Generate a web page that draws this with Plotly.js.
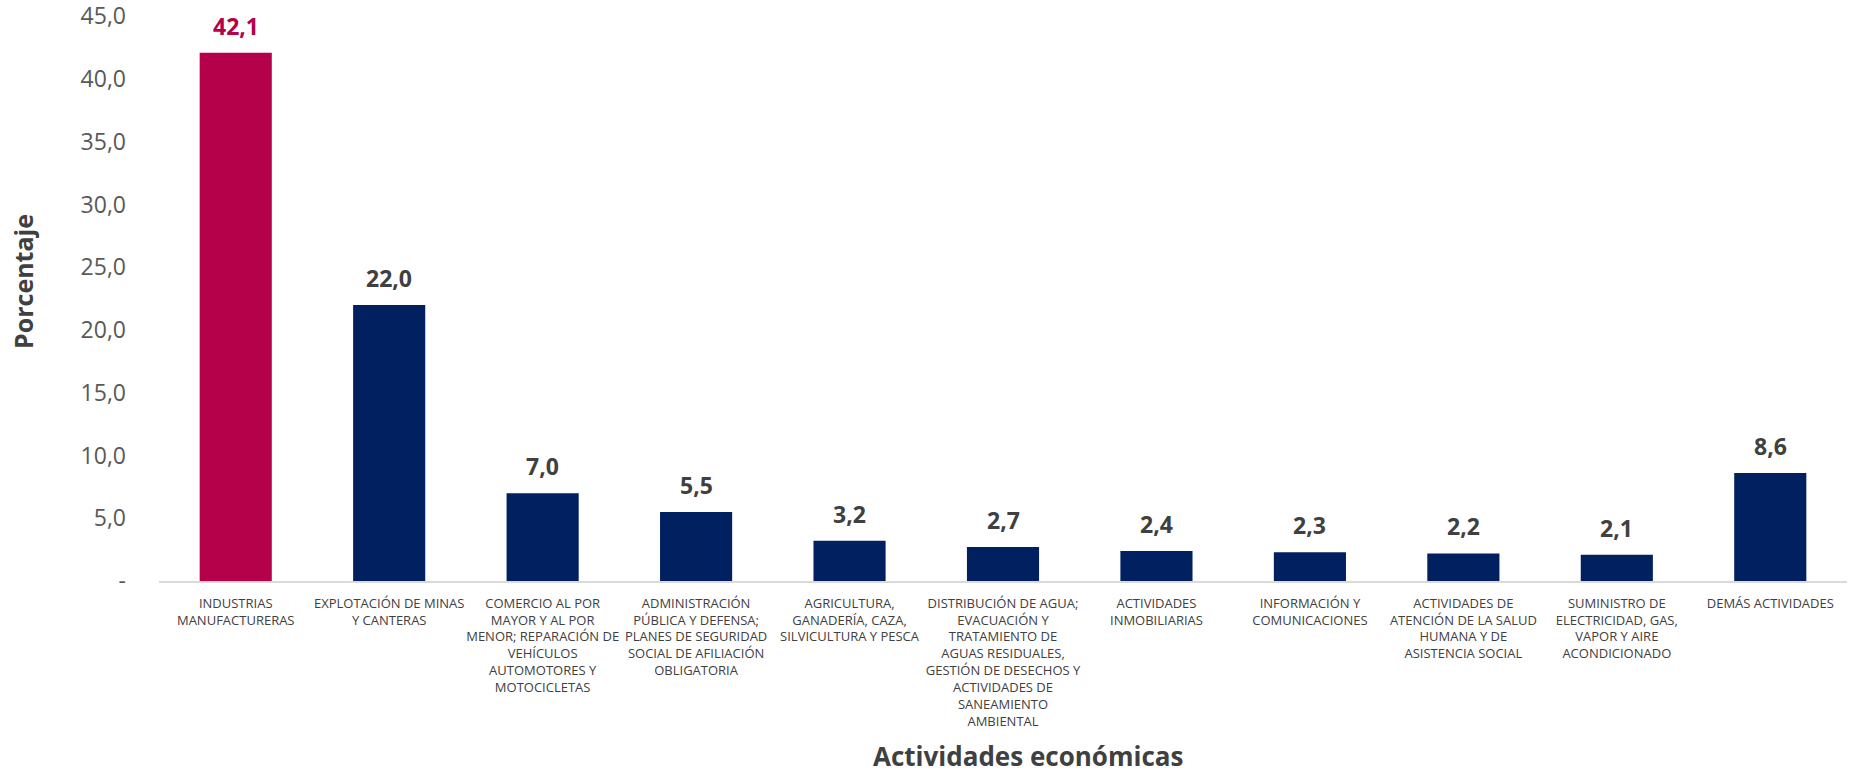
<!DOCTYPE html>
<html>
<head>
<meta charset="utf-8">
<script src="https://cdn.plot.ly/plotly-3.0.1.min.js"></script>
<style>html,body{margin:0;padding:0;background:#fff;}#chart{width:1851px;height:774px;}</style>
</head>
<body>
<div id="chart"></div>
<script>
const categories = [
  "INDUSTRIAS<br>MANUFACTURERAS",
  "EXPLOTACIÓN DE MINAS<br>Y CANTERAS",
  "COMERCIO AL POR<br>MAYOR Y AL POR<br>MENOR; REPARACIÓN DE<br>VEHÍCULOS<br>AUTOMOTORES Y<br>MOTOCICLETAS",
  "ADMINISTRACIÓN<br>PÚBLICA Y DEFENSA;<br>PLANES DE SEGURIDAD<br>SOCIAL DE AFILIACIÓN<br>OBLIGATORIA",
  "AGRICULTURA,<br>GANADERÍA, CAZA,<br>SILVICULTURA Y PESCA",
  "DISTRIBUCIÓN DE AGUA;<br>EVACUACIÓN Y<br>TRATAMIENTO DE<br>AGUAS RESIDUALES,<br>GESTIÓN DE DESECHOS Y<br>ACTIVIDADES DE<br>SANEAMIENTO<br>AMBIENTAL",
  "ACTIVIDADES<br>INMOBILIARIAS",
  "INFORMACIÓN Y<br>COMUNICACIONES",
  "ACTIVIDADES DE<br>ATENCIÓN DE LA SALUD<br>HUMANA Y DE<br>ASISTENCIA SOCIAL",
  "SUMINISTRO DE<br>ELECTRICIDAD, GAS,<br>VAPOR Y AIRE<br>ACONDICIONADO",
  "DEMÁS ACTIVIDADES"
];
const values = [42.1, 22.0, 7.0, 5.5, 3.2, 2.7, 2.4, 2.3, 2.2, 2.1, 8.6];
const valueLabels = ["42,1","22,0","7,0","5,5","3,2","2,7","2,4","2,3","2,2","2,1","8,6"];
const yTickVals = [0, 5, 10, 15, 20, 25, 30, 35, 40, 45];
const yTickText = ["-", "5,0", "10,0", "15,0", "20,0", "25,0", "30,0", "35,0", "40,0", "45,0"];

const RED = "#B5004A", NAVY = "#002060";
const barColors = values.map((v, i) => i === 0 ? RED : NAVY);
const labelColors = values.map((v, i) => i === 0 ? RED : "#404040");

const annotations = values.map((v, i) => ({
  x: i, y: v, xref: "x", yref: "y",
  text: "<b>" + valueLabels[i] + "</b>",
  showarrow: false, yanchor: "middle", yshift: 27,
  font: {family: "Open Sans, sans-serif", size: 23, color: labelColors[i]}
}));
annotations.push({
  xref: "paper", yref: "paper", x: (1028 - 159) / (1847 - 159), y: (581 - 756) / (581 - 16),
  text: "<b>Actividades económicas</b>", showarrow: false, xanchor: "center", yanchor: "middle",
  font: {family: "Open Sans, sans-serif", size: 26, color: "#404040"}
});
annotations.push({
  xref: "paper", yref: "paper", x: (23 - 159) / (1847 - 159), y: (581 - 282) / (581 - 16),
  text: "<b>Porcentaje</b>", showarrow: false, textangle: -90, xanchor: "center", yanchor: "middle",
  font: {family: "Open Sans, sans-serif", size: 25, color: "#404040"}
});

const trace = {
  type: "bar",
  x: categories.map((c, i) => i),
  y: values,
  marker: {color: barColors},
  hoverinfo: "skip"
};

const layout = {
  width: 1851, height: 774,
  margin: {l: 159, r: 4, t: 16, b: 193},
  paper_bgcolor: "#ffffff", plot_bgcolor: "#ffffff",
  showlegend: false,
  bargap: 0.53,
  font: {family: "Open Sans, sans-serif"},
  xaxis: {
    tickmode: "array",
    tickvals: categories.map((c, i) => i),
    ticktext: categories,
    tickangle: 0,
    tickfont: {family: "Open Sans, sans-serif", size: 13, color: "#404040"},
    showline: true, linecolor: "#D9D9D9", linewidth: 2,
    showgrid: false, zeroline: false, ticks: "",
    ticklabelstandoff: 9,
    range: [-0.5, 10.5],
    fixedrange: true
  },
  yaxis: {
    range: [0, 45.02],
    tickmode: "array",
    tickvals: yTickVals,
    ticktext: yTickText,
    tickfont: {family: "Open Sans, sans-serif", size: 23, color: "#595959"},
    showgrid: false, zeroline: false, showline: false, ticks: "",
    ticklabelstandoff: 32,
    ticklabeloverflow: "allow",
    fixedrange: true
  },
  annotations: annotations
};

Plotly.newPlot("chart", [trace], layout, {displayModeBar: false, staticPlot: true});
</script>
</body>
</html>
